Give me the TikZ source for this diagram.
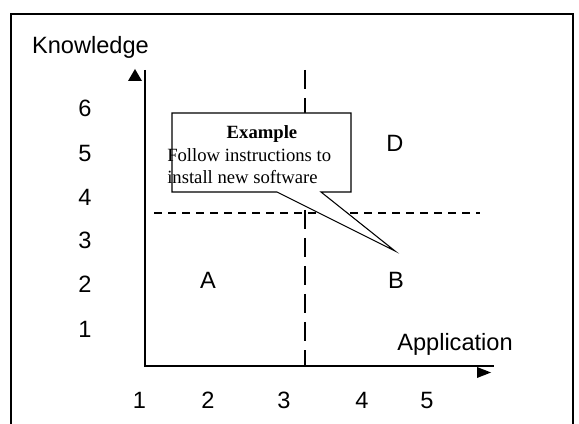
\documentclass[tikz,border=0pt]{standalone}
\usepackage{fontspec}
\setmainfont{Liberation Sans}
\newfontfamily\calloutfont{Liberation Serif}
\usepackage{tikz}

\tikzset{
  lbl/.style={inner sep=0.75pt, font=\fontsize{17.7}{21}\selectfont},
  note/.style={inner sep=0.75pt, font=\calloutfont\fontsize{14}{17}\selectfont},
}

\begin{document}
\begin{tikzpicture}[x=0.75pt,y=0.75pt,yscale=-1,xscale=1]
\useasboundingbox (0,0) rectangle (579,424);

%Frame
\draw [line width=1pt]  (11,430) -- (11,14) -- (573,14) -- (573,430) ;

%Axes
\coordinate (origin) at (145,366);
\coordinate (ytop) at (145,70);
\coordinate (xend) at (494,366);
\draw [line width=2pt]  (ytop) -- (origin) -- (xend) ;
\fill (135,69) -- (142,81) -- (128,81) -- cycle ;
\fill (477,367) -- (491,372.5) -- (477,378) -- cycle ;

%Dashed Lines
\coordinate (vtop) at (305,70);
\coordinate (vbot) at (305,366);
\draw [line width=2.2pt, dash pattern=on 14.25pt off 6.75pt]  (vtop) -- (vbot) ;
\coordinate (hleft) at (154,213);
\coordinate (hright) at (480,213);
\draw [line width=1pt, dash pattern=on 6.2pt off 4.3pt]  (hleft) -- (hright) ;

%Callout
\draw [fill=white, line width=0.8pt]  (172,113) -- (351,113) -- (351,192) -- (321,192) -- (395,251) -- (277,192) -- (172,192) -- cycle ;

% Text Node
\draw (262,139) node [anchor=base][note] (title) {\textbf{Example}};
% Text Node
\draw (166,162) node [anchor=base west][note] (line1) {Follow instructions to};
% Text Node
\draw (166,184) node [anchor=base west][note] (line2) {install new software};

% Text Node
\draw (90.5,54) node [anchor=base][lbl] (knowledge) {Knowledge};
% Text Node
\draw (455,350) node [anchor=base][lbl] (application) {Application};

% Text Node
\draw (85,116.5) node [anchor=base][lbl] (k6) {6};
% Text Node
\draw (85,161.5) node [anchor=base][lbl] (k5) {5};
% Text Node
\draw (85,205.5) node [anchor=base][lbl] (k4) {4};
% Text Node
\draw (85,248.5) node [anchor=base][lbl] (k3) {3};
% Text Node
\draw (85,292.5) node [anchor=base][lbl] (k2) {2};
% Text Node
\draw (85,337.5) node [anchor=base][lbl] (k1) {1};

% Text Node
\draw (139.5,408) node [anchor=base][lbl] (a1) {1};
% Text Node
\draw (208,408) node [anchor=base][lbl] (a2) {2};
% Text Node
\draw (284,408) node [anchor=base][lbl] (a3) {3};
% Text Node
\draw (362,408) node [anchor=base][lbl] (a4) {4};
% Text Node
\draw (427,408) node [anchor=base][lbl] (a5) {5};

% Text Node
\draw (208,288.5) node [anchor=base][lbl] (qA) {A};
% Text Node
\draw (396,288.5) node [anchor=base][lbl] (qB) {B};
% Text Node
\draw (395,151.5) node [anchor=base][lbl] (qD) {D};

\end{tikzpicture}
\end{document}
